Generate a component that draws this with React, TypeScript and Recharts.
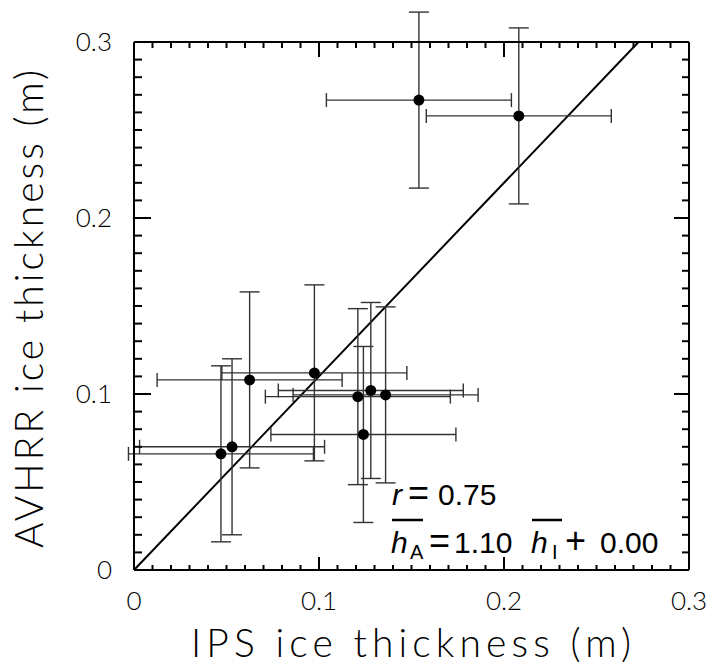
import React from 'react'
import { ScatterChart, Scatter, XAxis, YAxis, ErrorBar, ReferenceLine } from 'recharts'

// IPS (x) vs AVHRR (y) ice thickness, metres
const ipsThickness = [0.047, 0.053, 0.0625, 0.0975, 0.121, 0.128, 0.136, 0.124, 0.154, 0.208]
const avhrrThickness = [0.066, 0.07, 0.108, 0.112, 0.0985, 0.102, 0.0995, 0.077, 0.267, 0.258]
const ipsError = [0.05, 0.05, 0.05, 0.05, 0.05, 0.05, 0.05, 0.05, 0.05, 0.05]
const avhrrError = [0.05, 0.05, 0.05, 0.05, 0.05, 0.05, 0.05, 0.05, 0.05, 0.05]

const majorTicks = [0, 0.1, 0.2, 0.3]
const majorTickLabels = ['0', '0.1', '0.2', '0.3']
const allTicks = Array.from({ length: 31 }, (_, i) => i / 100)

const fitSlope = 1.1
const fitIntercept = 0.0
const correlation = 0.75

const W = 716
const H = 670
const TICK_FONT = 'Lato, "DejaVu Sans", sans-serif'
const NOTE_FONT = '"Liberation Sans", Arial, sans-serif'

const points = ipsThickness.map((x, i) => ({
    x,
    y: avhrrThickness[i],
    xErr: ipsError[i],
    yErr: avhrrError[i],
}))

const fitEnd = (majorTicks[3] - fitIntercept) / fitSlope

const majorIndex = (v: number) => majorTicks.findIndex(m => Math.abs(m - v) < 1e-6)

// ticks point inward on all four sides
function BottomTick(props: any) {
    const { x, y, payload } = props
    const idx = majorIndex(payload.value)
    const len = idx >= 0 ? 13 : 5
    return (
        <g>
            <path d={`M${x},${y}V${y - len}`} stroke="#000" strokeWidth={2} fill="none" />
            {idx >= 0 && (
                <text x={x} y={y + 40} textAnchor="middle" fontFamily={TICK_FONT} fontWeight={300} fontSize={26} fill="#000">
                    {majorTickLabels[idx]}
                </text>
            )}
        </g>
    )
}

function TopTick(props: any) {
    const { x, y, payload } = props
    const len = majorIndex(payload.value) >= 0 ? 15 : 6
    return <path d={`M${x},${y}V${y + len}`} stroke="#000" strokeWidth={2} fill="none" />
}

function LeftTick(props: any) {
    const { x, y, payload } = props
    const idx = majorIndex(payload.value)
    const len = idx >= 0 ? 17 : 8
    return (
        <g>
            <path d={`M${x},${y}H${x + len}`} stroke="#000" strokeWidth={2} fill="none" />
            {idx >= 0 && (
                <text x={x - 22} y={y + 9} textAnchor="end" fontFamily={TICK_FONT} fontWeight={300} fontSize={26} fill="#000">
                    {majorTickLabels[idx]}
                </text>
            )}
        </g>
    )
}

function RightTick(props: any) {
    const { x, y, payload } = props
    const len = majorIndex(payload.value) >= 0 ? 15 : 7
    return <path d={`M${x},${y}H${x - len}`} stroke="#000" strokeWidth={2} fill="none" />
}

const Dot = (props: any) => <circle cx={props.cx} cy={props.cy} r={5.5} fill="#000" />

const axisCommon = {
    type: 'number' as const,
    domain: [0, 0.3],
    allowDataOverflow: true,
    ticks: allTicks,
    interval: 0,
    tickSize: 0,
    tickMargin: 0,
    tickLine: false,
    axisLine: { stroke: '#000', strokeWidth: 2 },
}

export default function App() {
    return (
        <div style={{ position: 'absolute', left: 0, top: 0, width: W, height: H, background: '#fff' }}>
            {/* error bars run past the frame in the original, so drop the plot clip */}
            <style>{`.recharts-wrapper g[clip-path] { clip-path: none; }`}</style>
            <ScatterChart width={W} height={H} margin={{ top: 41, right: 26, bottom: 99, left: 133 }}>
                <XAxis xAxisId="bottom" dataKey="x" height={1} tick={BottomTick} {...axisCommon} />
                <XAxis xAxisId="top" orientation="top" dataKey="x" height={1} tick={TopTick} {...axisCommon} />
                <YAxis yAxisId="left" dataKey="y" width={1} tick={LeftTick} {...axisCommon} />
                <YAxis yAxisId="right" orientation="right" dataKey="y" width={1} tick={RightTick} {...axisCommon} />
                <ReferenceLine
                    xAxisId="bottom"
                    yAxisId="left"
                    segment={[
                        { x: 0, y: fitIntercept },
                        { x: fitEnd, y: majorTicks[3] },
                    ]}
                    stroke="#000"
                    strokeWidth={2}
                    ifOverflow="visible"
                />
                <Scatter
                    xAxisId="bottom"
                    yAxisId="left"
                    data={points}
                    shape={Dot}
                    isAnimationActive={false}
                >
                    <ErrorBar dataKey="xErr" direction="x" width={7} stroke="#333" strokeWidth={1.4} isAnimationActive={false} />
                    <ErrorBar dataKey="yErr" direction="y" width={10} stroke="#333" strokeWidth={1.4} isAnimationActive={false} />
                </Scatter>
            </ScatterChart>
            <svg width={W} height={H} style={{ position: 'absolute', left: 0, top: 0, pointerEvents: 'none' }}>
                <text x={411} y={657} textAnchor="middle" fontFamily={TICK_FONT} fontWeight={300} fontSize={39} textLength={440} lengthAdjust="spacing">
                    IPS ice thickness (m)
                </text>
                <text transform="translate(43, 309) rotate(-90)" textAnchor="middle" fontFamily={TICK_FONT} fontWeight={300} fontSize={39} textLength={478} lengthAdjust="spacing">
                    AVHRR ice thickness (m)
                </text>
                <g fontFamily={NOTE_FONT} fill="#000">
                    <text y={505} fontSize={30}>
                        <tspan x={392} fontStyle="italic">r</tspan>
                        <tspan x={408} fontSize={36}>=</tspan>
                        <tspan x={438}>{correlation.toFixed(2)}</tspan>
                    </text>
                    <line x1={392} x2={423} y1={520} y2={520} stroke="#000" strokeWidth={2.5} />
                    <line x1={532} x2={562} y1={520} y2={520} stroke="#000" strokeWidth={2.5} />
                    <text y={553} fontSize={30}>
                        <tspan x={391} fontStyle="italic">h</tspan>
                        <tspan x={410} dy={6} fontSize={20}>A</tspan>
                        <tspan x={429} dy={-6} fontSize={36}>=</tspan>
                        <tspan x={454}>{fitSlope.toFixed(2)}</tspan>
                        <tspan x={531} fontStyle="italic">h</tspan>
                        <tspan x={552} dy={6} fontSize={20}>I</tspan>
                        <tspan x={565} dy={-6} fontSize={36}>+</tspan>
                        <tspan x={600}>{fitIntercept.toFixed(2)}</tspan>
                    </text>
                </g>
            </svg>
        </div>
    )
}
